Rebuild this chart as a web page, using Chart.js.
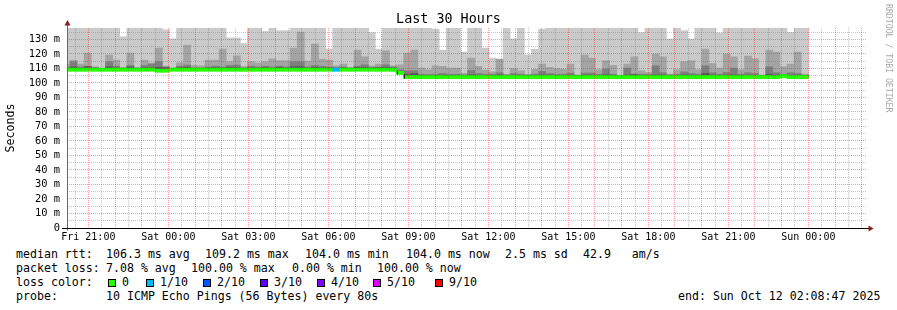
<!DOCTYPE html>
<html>
<head>
<meta charset="utf-8">
<script src="https://cdn.jsdelivr.net/npm/chart.js@4.4.1/dist/chart.umd.min.js"></script>
<style>
  body { margin: 0; background: #fff; }
  #wrap { position: relative; width: 897px; height: 310px; background: #fff; font-family: "DejaVu Sans Mono", monospace; }
  canvas { display: block; }
  .t { position: absolute; font-size: 11.6px; line-height: 14px; color: #000; white-space: pre; }
  .sq { position: absolute; width: 6px; height: 6px; border: 1px solid #000; }
  .rrd { position: absolute; left: 884px; top: 4px; writing-mode: vertical-rl; font-size: 8.2px; color: #aaa; white-space: pre; }
</style>
</head>
<body>
<div id="wrap">
  <canvas id="chart" width="897" height="245"></canvas>
  <div class="rrd">RRDTOOL / TOBI OETIKER</div>

  <div class="t" style="left:16px;top:247px">median rtt:</div>
  <div class="t" style="left:106px;top:247px">106.3 ms avg</div>
  <div class="t" style="left:205px;top:247px">109.2 ms max</div>
  <div class="t" style="left:305px;top:247px">104.0 ms min</div>
  <div class="t" style="left:406px;top:247px">104.0 ms now</div>
  <div class="t" style="left:505px;top:247px">2.5 ms sd</div>
  <div class="t" style="left:583px;top:247px">42.9   am/s</div>

  <div class="t" style="left:16px;top:261px">packet loss:</div>
  <div class="t" style="left:106px;top:261px">7.08 % avg</div>
  <div class="t" style="left:191px;top:261px">100.00 % max</div>
  <div class="t" style="left:292px;top:261px">0.00 % min</div>
  <div class="t" style="left:377px;top:261px">100.00 % now</div>

  <div class="t" style="left:16px;top:275px">loss color:</div>
  <div id="lossLegend"></div>

  <div class="t" style="left:16px;top:289px">probe:</div>
  <div class="t" style="left:106px;top:289px">10 ICMP Echo Pings (56 Bytes) every 80s</div>
  <div class="t" style="left:678px;top:289px">end: Sun Oct 12 02:08:47 2025</div>
</div>

<script>
const FONT = "'DejaVu Sans Mono', monospace";

// x is hours since Fri 00:00; smoke steps of ~16 min from 20:18 to Sun 00:00
const X_MIN = 20.2, X_MAX = 50.2;
const STEP_START = 20.3125, STEP_END = 48.0, STEPS = 104;
const stepH = (STEP_END - STEP_START) / STEPS;
const stepX = i => STEP_START + (i - 0.5) * stepH; // index 0 = partial step at the left edge

const xLabelHours = [21, 24, 27, 30, 33, 36, 39, 42, 45, 48];
const xLabels = ['Fri 21:00', 'Sat 00:00', 'Sat 03:00', 'Sat 06:00', 'Sat 09:00',
                 'Sat 12:00', 'Sat 15:00', 'Sat 18:00', 'Sat 21:00', 'Sun 00:00'];
const yLabels = ['0', '10 m', '20 m', '30 m', '40 m', '50 m', '60 m',
                 '70 m', '80 m', '90 m', '100 m', '110 m', '120 m', '130 m'];

// ms, one value per step (150 = beyond the top of the graph)
const smokeMax = [
  150,
  150,150,150,150,150,150,150,131.8,150,150,150,150,150,136.6,130.4,150,150,
  150,150,150,150,150,131,131,127.2,150,150,135.5,150,136,136,150,150,150,
  150,150,123.4,150,150,150,150,150,134.7,123.3,150,150,150,150,150,150,150,137,
  122.6,150,150,121.2,150,150,124,117.1,115.7,150,130.3,150,119.3,123.2,137,150,150,150,150,
  150,150,150,150,150,150,150,150,150,134.7,150,150,150,130.2,150,136,
  130.2,150,150,150,134.5,150,150,150,150,150,150,150,150,150,134.8,150,150
];
const smokeP9 = [
  113,
  115.7,113,120.5,111.1,110.2,119.2,115.7,110.7,120.5,110.7,115.7,113.7,124,111.5,110.5,113.9,126,
  112,111.8,115.7,115.7,123.3,114.6,118.7,111.2,114.6,113.7,114.6,116.6,115.3,115.3,124,135,115,
  126.8,116.4,115.7,111.8,113,110.7,122.6,118,111.8,113,122.2,111.8,112.5,120.5,122.6,110.2,109.1,111.8,
  111.4,110.2,110.2,106.6,117.1,111.4,108.9,107.7,116.4,106,110,108.4,106,109.3,113,110.7,110,109.5,113,
  105.6,119.2,117.1,109.1,115.3,112.1,105,113,118,108.4,107.2,119.9,118,106.1,109.1,114.6,
  115.3,109.1,123.3,113.4,110.2,119.9,118,109.1,118.5,116.7,105.5,122.6,121.2,111.1,113,121.2,106.1
];
const smokeP8 = [
  111,
  114.5,111,111.5,110.5,110,114.6,111.5,110.3,112,110.3,112,113,114.6,111,110,111.5,112.3,
  110.5,110.5,111,111.5,111,112,112.3,110.5,111.5,111,111.5,111,111.5,111,114.6,114.6,111,
  112,111.5,111,110.5,111,110.3,111.5,112.5,110.8,111,112.5,111,109,108.4,108.4,106,105.8,106,
  106.5,106,106,105.5,108.5,106.5,106,106,107,105.5,106.5,106,105.5,106,108,106.5,106,106,106.8,
  105.2,106.8,106.8,106,109.5,106,104.9,110.2,106,106,106,111.8,107,105.5,106,107.7,
  106.5,106,111.8,107,106,107.2,110.2,106,107,106.5,105,111.1,107,106,107,106.5,105.3
];
const smokeP7 = [
  110.2,
  111.1,110.3,111.3,110.2,109.9,111.2,110.3,110,111,110,110.5,110.5,110.8,110.5,109.6,110.5,110.8,
  110,110,110.3,110.5,110.3,110.8,110.5,110,110.5,110.3,110.5,110.2,110.8,110.3,111.2,111.2,110.3,
  110.8,110.5,110.5,110.2,110.3,110,110.8,110.8,110.3,110.5,110.8,110.3,108,106,106.5,105.2,105.2,105.2,
  105.2,105,105,105,105.5,105.2,105,105,105.5,104.9,105.2,105,104.9,105,105.5,105.3,105.1,105,105.3,
  105,105.3,105.3,105,105.6,105.2,104.8,105.5,105.8,105.2,105,105.5,105.3,105,105.2,105.5,
  105.2,105,106.5,105.3,105.1,105.3,105.5,105,105.3,105.2,104.9,106,105.4,105.1,105.2,105.3,105
];
const medianRtt = [
  109.1,109.1,109.1,109.1,109.1,109.1,109.1,109.1,109.1,109.1,
  109.1,109.1,109.1,108.4,108.4,109.1,109.1,109.1,109.1,109.1,
  109.1,109.1,109.1,109.1,109.1,109.1,109.1,109.1,109.1,109.1,
  109.1,109.1,109.1,109.1,109.1,109.1,109.1,109.1,109.1,109.1,
  109.1,109.1,109.1,109.1,109.1,109.1,109.1,106.9,104,104,
  104,104,104,104,104,104,104,104,104,104,
  104,104,104,104,104,104,104,104,104,104,
  104,104,104,104,104,104,104,104,104,104,
  104,104,104,104,104,104,104,104,104,104,
  104,104,104,104,104,104,104,104,104,104,
  104,104.6,104,104,104
];
const lossTenths = [
  0,0,0,0,0,0,0,0,0,0, 0,0,0,0,0,0,0,0,0,0, 0,0,0,0,0,0,0,0,0,0,
  0,0,0,0,0,0,0,0,1,0, 0,0,0,0,0,0,0,0,0,0, 0,0,0,0,0,0,0,0,0,0,
  0,0,0,0,0,0,0,0,0,0, 0,0,0,0,0,0,0,0,0,0, 0,0,0,0,0,0,0,0,0,0,
  0,0,0,0,0,0,0,0,0,0, 0,0,0,0,0
];

const lossKeys = ['0', '1/10', '2/10', '3/10', '4/10', '5/10', '9/10'];
const lossColors = ['#26ff00', '#00b8ff', '#0059ff', '#5e00ff', '#7e00ff', '#dd00ff', '#ff0000'];
const lossLeft = [108, 146, 203, 260, 317, 373, 435];

const legendBox = document.getElementById('lossLegend');
lossKeys.forEach((k, i) => {
  const sq = document.createElement('div');
  sq.className = 'sq';
  sq.style.cssText = `left:${lossLeft[i]}px;top:279px;background:${lossColors[i]}`;
  legendBox.appendChild(sq);
  const tx = document.createElement('div');
  tx.className = 't';
  tx.style.cssText = `left:${lossLeft[i] + 14}px;top:275px`;
  tx.textContent = k;
  legendBox.appendChild(tx);
});

const MAJOR = 'rgba(255,40,40,0.5)';
const MINOR = 'rgba(95,95,95,0.35)';

const smoke = (values, color, order) => ({
  type: 'bar',
  data: values.map((v, i) => ({ x: stepX(i), y: [medianRtt[i], v] })),
  backgroundColor: color,
  borderWidth: 0,
  grouped: false,
  barPercentage: 1,
  categoryPercentage: 1,
  order
});

// black joins where the median steps further than its band
const rrdAxes = {
  id: 'rrdAxes',
  afterDatasetsDraw(chart) {
    const { ctx, scales: { x, y } } = chart;
    ctx.save();
    ctx.strokeStyle = '#202020';
    ctx.lineWidth = 1;
    for (let i = 1; i < medianRtt.length; i++) {
      if (Math.abs(medianRtt[i] - medianRtt[i - 1]) < 1.5) continue;
      const px = Math.round(x.getPixelForValue(stepX(i) - stepH / 2)) + 0.5;
      ctx.beginPath();
      ctx.moveTo(px, y.getPixelForValue(medianRtt[i - 1] - 1));
      ctx.lineTo(px, y.getPixelForValue(medianRtt[i] - 1));
      ctx.stroke();
    }
    ctx.restore();
  },
  afterDraw(chart) {
    const { ctx, chartArea: a } = chart;
    const L = Math.round(a.left) + 0.5, B = Math.round(a.bottom) + 0.5;
    ctx.save();
    ctx.lineWidth = 1;
    ctx.strokeStyle = '#666';
    ctx.beginPath(); ctx.moveTo(L, B + 2); ctx.lineTo(L, a.top - 3); ctx.stroke();
    ctx.strokeStyle = '#000';
    ctx.beginPath(); ctx.moveTo(a.left - 5, B); ctx.lineTo(a.right + 2, B); ctx.stroke();
    ctx.fillStyle = '#8b1c1c';
    ctx.beginPath(); ctx.moveTo(L, a.top - 8); ctx.lineTo(L - 3, a.top - 2.5); ctx.lineTo(L + 3, a.top - 2.5); ctx.closePath(); ctx.fill();
    ctx.beginPath(); ctx.moveTo(a.right + 6.5, B); ctx.lineTo(a.right + 1.5, B - 3); ctx.lineTo(a.right + 1.5, B + 3); ctx.closePath(); ctx.fill();
    ctx.restore();
  }
};

new Chart(document.getElementById('chart'), {
  type: 'bar',
  data: {
    datasets: [
      smoke(smokeMax, '#cacaca', 10),
      smoke(smokeP9, '#a4a4a4', 9),
      smoke(smokeP8, '#7e7e7e', 8),
      smoke(smokeP7, '#585858', 7),
      {
        type: 'bar',
        data: medianRtt.map((m, i) => ({ x: stepX(i), y: [m - 1.1, m + 1.1] })),
        backgroundColor: lossTenths.map(l => lossColors[l]),
        borderWidth: 0,
        grouped: false,
        barPercentage: 1,
        categoryPercentage: 1,
        order: 1
      }
    ]
  },
  options: {
    responsive: false,
    animation: false,
    layout: { padding: 0 },
    plugins: {
      legend: { display: false },
      tooltip: { enabled: false },
      title: {
        display: true,
        text: 'Last 30 Hours',
        color: '#000',
        font: { family: FONT, size: 13.4, weight: 'normal', lineHeight: 1.2 },
        padding: { top: 11, bottom: 1 }
      }
    },
    scales: {
      x: {
        type: 'linear',
        min: X_MIN,
        max: X_MAX,
        offset: false,
        afterBuildTicks: s => {
          const t = [];
          for (let v = 20.5; v <= 50; v += 0.5) t.push({ value: v });
          s.ticks = t;
        },
        afterFit: s => { s.height = 17; },
        grid: {
          offset: false,
          drawTicks: false,
          z: 1,
          color: c => (c.tick && c.tick.value % 1 === 0) ? MAJOR : MINOR
        },
        border: { display: false, dash: [1, 1] },
        ticks: {
          autoSkip: false,
          maxRotation: 0,
          padding: 3,
          color: '#000',
          font: { family: FONT, size: 10 },
          callback: v => {
            const i = xLabelHours.indexOf(v);
            return i >= 0 ? xLabels[i] : '';
          }
        }
      },
      y: {
        type: 'linear',
        min: 0,
        max: 137.8,
        afterBuildTicks: s => {
          const t = [];
          for (let v = 0; v <= 135; v += 5) t.push({ value: v });
          s.ticks = t;
        },
        afterFit: s => { s.width = 67; },
        grid: {
          drawTicks: false,
          z: 1,
          color: c => (c.tick && c.tick.value % 10 === 0) ? MAJOR : MINOR
        },
        border: { display: false, dash: [1, 1] },
        title: {
          display: true,
          text: 'Seconds',
          color: '#000',
          font: { family: FONT, size: 11.6 },
          padding: { top: 4, bottom: 0 }
        },
        ticks: {
          autoSkip: false,
          padding: 7,
          color: '#000',
          font: { family: FONT, size: 10.4 },
          callback: v => (v % 10 === 0 ? yLabels[v / 10] : '')
        }
      },
      // empty right-hand strip that keeps the plot 800px wide while the title stays centred on the page
      yRight: {
        position: 'right',
        display: true,
        grid: { display: false },
        border: { display: false },
        ticks: { display: false },
        afterFit: s => { s.width = 30; }
      }
    }
  },
  plugins: [rrdAxes]
});
</script>
</body>
</html>
